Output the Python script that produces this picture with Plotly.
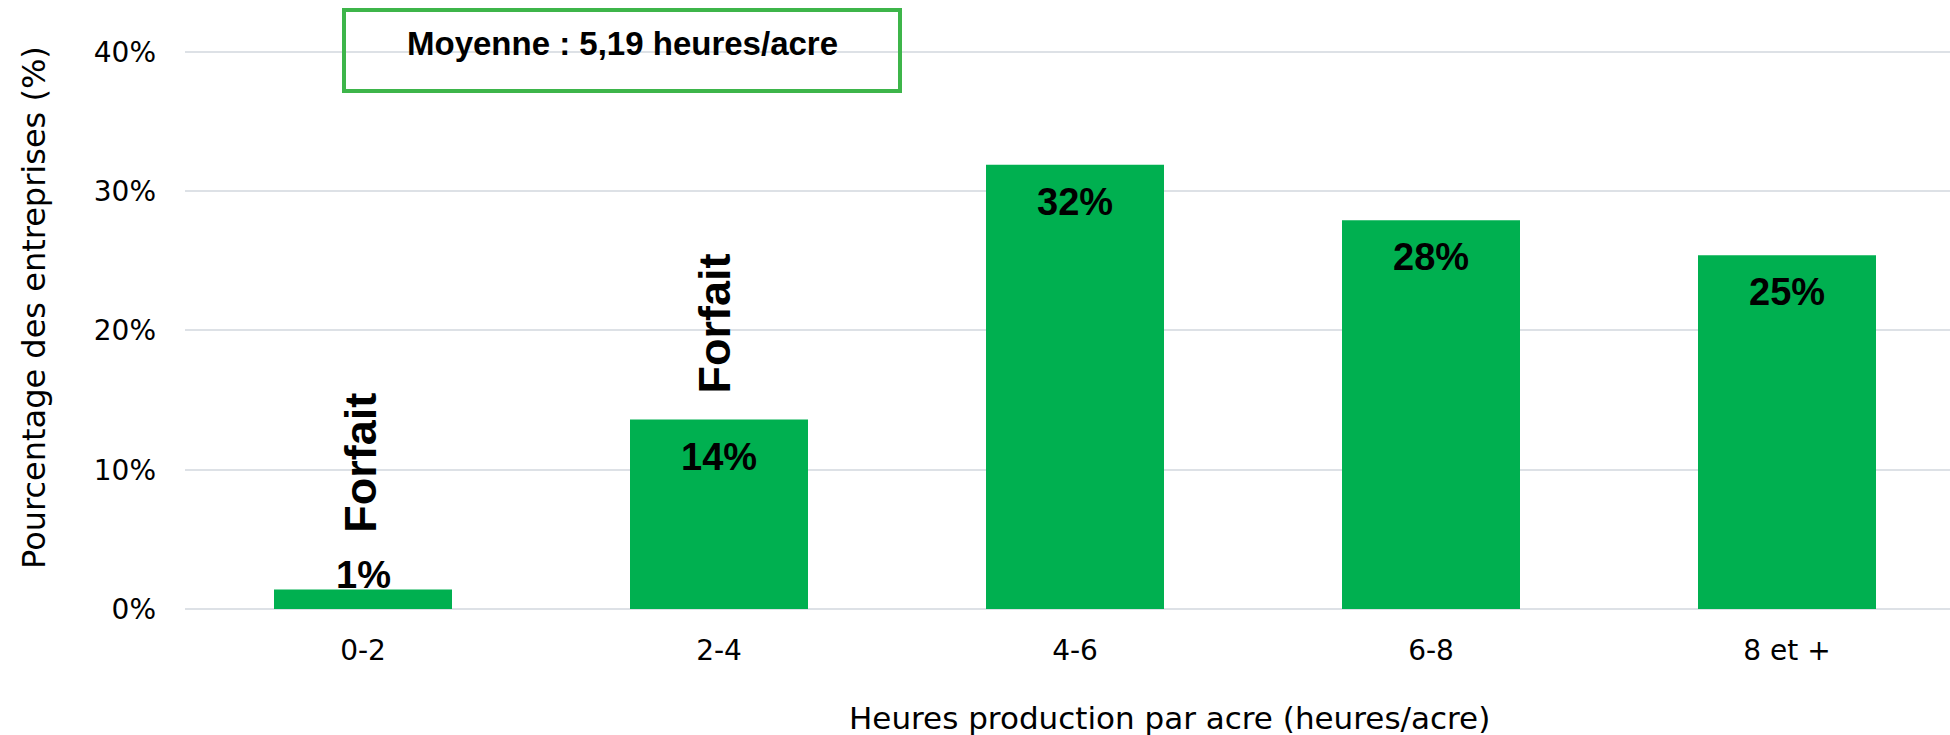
import plotly.graph_objects as go

categories = ["0-2", "2-4", "4-6", "6-8", "8 et +"]
values = [1.4, 13.6, 31.9, 27.9, 25.4]
forfait_cats = ["0-2", "2-4"]
forfait_y = [10.5, 20.5]
mean_text = "Moyenne : 5,19 heures/acre"
y_ticks = [0, 10, 20, 30, 40]

W, H = 1950, 735
L, T, B = 185, 0, 126
plot_w = W - L
plot_h = H - T - B
px_per_cat = 356.0
px_per_pct = 13.93

BAR = "#00B050"
BOX = "#3DB54A"
GRID = "#DDE1E6"
BODY_FONT = "DejaVu Sans"
BOLD_FONT = "Liberation Sans"

fig = go.Figure()
fig.add_trace(go.Bar(x=categories, y=values, marker=dict(color=BAR, line=dict(width=0)),
                     hoverinfo="skip", showlegend=False))

# value labels
for i, (c, v) in enumerate(zip(categories, values)):
    fig.add_annotation(x=c, y=v, text=f"<b>{round(v):d}%</b>", showarrow=False,
                       yanchor="middle", yshift=(15 if v < 5 else -37),
                       font=dict(family=BOLD_FONT, size=38, color="#000000"))

# Forfait labels
for c, fy in zip(forfait_cats, forfait_y):
    fig.add_annotation(x=c, y=fy, text="<b>Forfait</b>", showarrow=False, textangle=-90,
                       xshift=(-5 if c == "2-4" else -2),
                       font=dict(family=BOLD_FONT, size=45, color="#000000"))

def px_x(p):
    return (p - L) / plot_w

def px_y(p):
    return (T + plot_h - p) / plot_h

# mean box
fig.add_shape(type="rect", xref="paper", yref="paper",
              x0=px_x(344), x1=px_x(900), y0=px_y(91), y1=px_y(10),
              line=dict(color=BOX, width=4), fillcolor="rgba(0,0,0,0)")
fig.add_annotation(xref="paper", yref="paper", x=px_x(622), y=px_y(43), text=f"<b>{mean_text}</b>",
                   showarrow=False, xanchor="center", yanchor="middle",
                   font=dict(family=BOLD_FONT, size=33, color="#000000"))

# axis titles
fig.add_annotation(xref="paper", yref="paper", x=px_x(34), y=px_y(308),
                   text="Pourcentage des entreprises (%)", textangle=-90, showarrow=False,
                   xanchor="center", yanchor="middle",
                   font=dict(family=BODY_FONT, size=32, color="#000000"))
fig.add_annotation(xref="paper", yref="paper", x=px_x(1169), y=px_y(718),
                   text="Heures production par acre (heures/acre)", showarrow=False,
                   xanchor="center", yanchor="middle",
                   font=dict(family=BODY_FONT, size=31, color="#000000"))

fig.update_layout(
    width=W, height=H,
    margin=dict(l=L, r=0, t=T, b=B, pad=0),
    paper_bgcolor="white", plot_bgcolor="white",
    bargap=0.5,
    xaxis=dict(range=[-0.5, -0.5 + plot_w / px_per_cat], showgrid=False, showline=False,
               zeroline=False, ticks="", ticklabelstandoff=22,
               tickfont=dict(family=BODY_FONT, size=28, color="#000000")),
    yaxis=dict(range=[0, plot_h / px_per_pct], tickvals=y_ticks,
               ticktext=[f"{t}%" for t in y_ticks], showgrid=True, gridcolor=GRID, gridwidth=2,
               zeroline=True, zerolinecolor=GRID, zerolinewidth=2, showline=False, ticks="",
               ticklabelstandoff=28,
               tickfont=dict(family=BODY_FONT, size=28, color="#000000")),
)

fig.write_html("out.html", config={"displayModeBar": False},
               post_script="document.body.style.margin='0px';document.body.style.overflow='hidden';")
